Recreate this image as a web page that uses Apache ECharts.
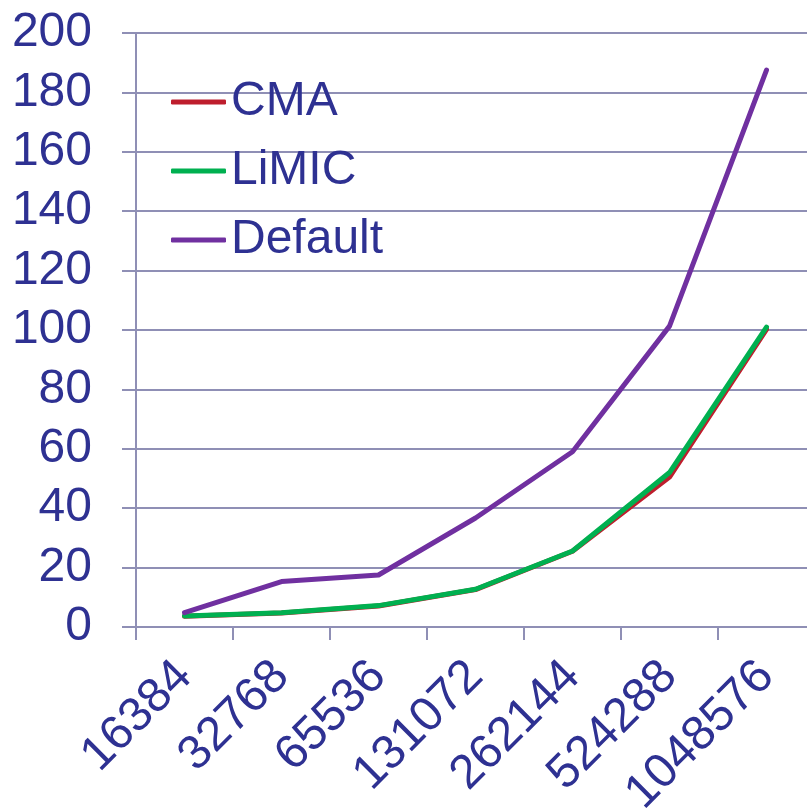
<!DOCTYPE html>
<html><head><meta charset="utf-8">
<script src="https://cdn.jsdelivr.net/npm/echarts@6/dist/echarts.min.js"></script>
<style>html,body{margin:0;padding:0;background:#fff}#c{width:807px;height:812px}</style>
</head><body><div id="c"></div>
<script>
const categories = ['16384','32768','65536','131072','262144','524288','1048576'];
const cma = [3.6, 4.7, 7.1, 12.6, 25.5, 50.5, 100.2];
const limic = [3.7, 4.8, 7.2, 12.7, 25.6, 52.0, 101.0];
const defaultVals = [4.8, 15.3, 17.5, 36.7, 59.0, 101.3, 187.5];
const yTicks = {min: 0, max: 200, interval: 20};

const txt = '#2E3192';
const axisCol = '#8F8FB5';
const font = '"Liberation Sans", Arial, sans-serif';
const chart = echarts.init(document.getElementById('c'));
function s(name, data, color){
  return {name, type:'line', data, showSymbol:false, symbol:'none',
    lineStyle:{color, width:5, cap:'round', join:'round'}, itemStyle:{color}, animation:false};
}
chart.setOption({
  animation:false,
  grid:{left:136, top:33, width:679, height:594, containLabel:false, outerBoundsMode:'none'},
  legend:{orient:'vertical', left:166, top:73, itemWidth:55, itemHeight:5, itemGap:21,
    icon:'roundRect',
    textStyle:{fontFamily:font, fontSize:48, color:txt, lineHeight:48, padding:[0,0,0,0]},
    data:['CMA','LiMIC','Default']},
  xAxis:{type:'category', data:categories, boundaryGap:true,
    axisLine:{show:true, lineStyle:{color:axisCol, width:2}},
    axisTick:{show:true, length:13, lineStyle:{color:axisCol, width:2}},
    axisLabel:{rotate:45, fontSize:48, fontFamily:font, color:txt, margin:42, interval:0},
    splitLine:{show:false}},
  yAxis:{type:'value', min:yTicks.min, max:yTicks.max, interval:yTicks.interval,
    axisLine:{show:true, lineStyle:{color:axisCol, width:2}},
    axisTick:{show:true, length:14, lineStyle:{color:axisCol, width:2}},
    axisLabel:{fontSize:48, fontFamily:font, color:txt, margin:44},
    splitLine:{show:true, lineStyle:{color:axisCol, width:2}}},
  series:[s('CMA', cma, '#BE1E2D'), s('LiMIC', limic, '#00B050'), s('Default', defaultVals, '#7030A0')]
});
</script></body></html>
